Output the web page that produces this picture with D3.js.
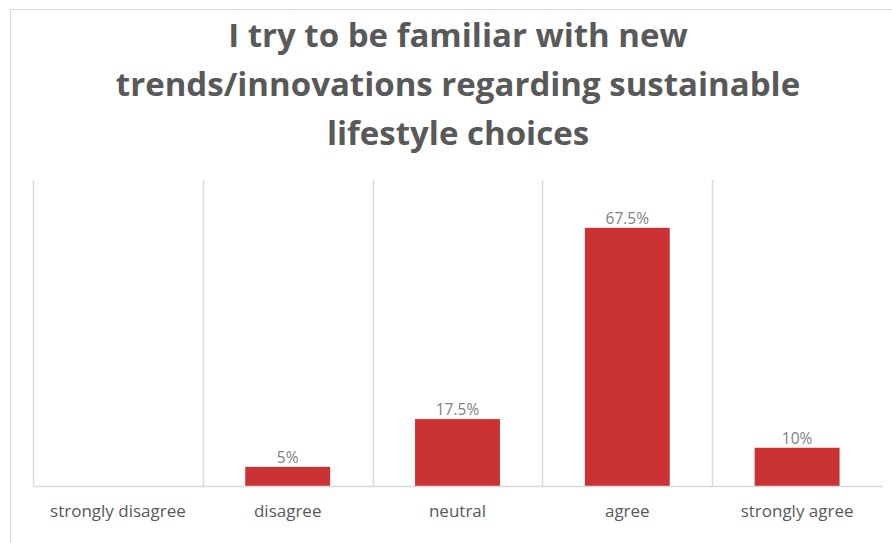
<!DOCTYPE html>
<html>
<head>
<meta charset="utf-8">
<script src="https://cdn.jsdelivr.net/npm/d3@7"></script>
<style>
  html, body { margin: 0; padding: 0; background: #fff; }
  svg { display: block; }
  text { font-family: "Open Sans", Lato, sans-serif; }
</style>
</head>
<body>
<svg id="chart" width="892" height="543"></svg>
<script>
// Survey responses (share of respondents, %)
const categories = ["strongly disagree", "disagree", "neutral", "agree", "strongly agree"];
const values = [0, 5, 17.5, 67.5, 10];
const valueLabels = ["", "5%", "17.5%", "67.5%", "10%"];
const titleLines = [
  "I try to be familiar with new",
  "trends/innovations regarding sustainable",
  "lifestyle choices"
];

const svg = d3.select("#chart");
const W = 892, H = 543;
const plot = { left: 33, right: 882, top: 180, bottom: 486 };

// Outer chart frame (top and left edges visible)
svg.append("line").attr("x1", 10).attr("x2", W).attr("y1", 9.5).attr("y2", 9.5)
  .attr("stroke", "#d9d9d9").attr("stroke-width", 1);
svg.append("line").attr("x1", 10.5).attr("x2", 10.5).attr("y1", 9).attr("y2", H)
  .attr("stroke", "#d9d9d9").attr("stroke-width", 1);

// Title
svg.append("g").selectAll("text").data(titleLines).join("text")
  .attr("x", 458).attr("y", (d, i) => 47 + i * 49)
  .attr("text-anchor", "middle")
  .attr("font-size", 33).attr("font-weight", 700)
  .attr("fill", "#595959")
  .text(d => d);

const x = d3.scaleBand().domain(categories).range([plot.left, plot.right]).paddingInner(0).paddingOuter(0);
const y = d3.scaleLinear().domain([0, 80]).range([plot.bottom, plot.top]);

// Vertical category gridlines
svg.append("g").selectAll("line").data(categories).join("line")
  .attr("x1", d => Math.round(x(d)) + 0.5).attr("x2", d => Math.round(x(d)) + 0.5)
  .attr("y1", plot.top).attr("y2", plot.bottom)
  .attr("stroke", "#d9d9d9").attr("stroke-width", 1.5);

// Bars: half the band width, centred
const barW = x.bandwidth() * 0.5;
svg.append("g").selectAll("rect").data(values).join("rect")
  .attr("x", (d, i) => x(categories[i]) + (x.bandwidth() - barW) / 2)
  .attr("y", d => y(d))
  .attr("width", barW)
  .attr("height", d => y(0) - y(d))
  .attr("fill", "#cb3234");

// Baseline axis
const xAxis = d3.axisBottom(x).tickSize(0).tickPadding(19);
const gx = svg.append("g").attr("transform", `translate(0,${plot.bottom})`).call(xAxis);
gx.select(".domain").attr("stroke", "#d9d9d9").attr("stroke-width", 1.5);
gx.selectAll(".tick text")
  .attr("font-family", "'Open Sans', Lato, sans-serif")
  .attr("font-size", 17).attr("fill", "#595959");

// Value labels
svg.append("g").selectAll("text").data(values).join("text")
  .attr("x", (d, i) => x(categories[i]) + x.bandwidth() / 2)
  .attr("y", d => y(d) - 4)
  .attr("text-anchor", "middle")
  .attr("font-size", 15.5).attr("fill", "#7f7f7f")
  .text((d, i) => valueLabels[i]);
</script>
</body>
</html>
